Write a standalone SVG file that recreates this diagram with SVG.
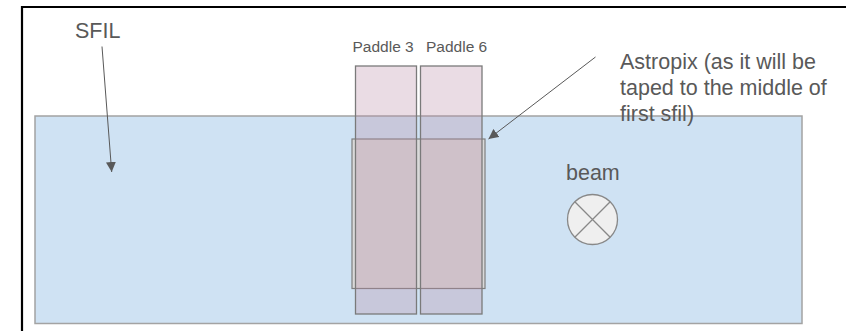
<svg xmlns="http://www.w3.org/2000/svg" width="846" height="331" viewBox="0 0 846 331">
<defs>
<style>
.lbl{font-family:"Liberation Sans",Arial,sans-serif;fill:#595959}
.big{font-size:21.5px}
.small{font-size:15.5px}
.paddle{fill:#b98aa6;fill-opacity:0.3;stroke:#7a7a7a;stroke-width:1.3}
.conn{stroke:#595959;stroke-width:1;fill:none}
</style>
<marker id="ah" viewBox="0 0 10 10" refX="10" refY="5" markerWidth="10" markerHeight="10" markerUnits="userSpaceOnUse" orient="auto">
<path d="M0,0 L10,5 L0,10 Z" fill="#595959"/>
</marker>
</defs>
<rect x="0" y="0" width="846" height="331" fill="#ffffff"/>
<path d="M22,331 V7 H846" fill="none" stroke="#000" stroke-width="2.2"/>
<g id="sfil">
<rect x="35" y="116" width="767" height="207.5" fill="#cfe2f3" stroke="#a3a3a3" stroke-width="1.5"/>
</g>
<g id="astropix">
<rect x="352" y="139" width="133" height="149.5" fill="#d9d9d9" stroke="#7f7f7f" stroke-width="1.2"/>
</g>
<g id="paddle3">
<rect class="paddle" x="355.5" y="66" width="61" height="248"/>
</g>
<g id="paddle6">
<rect class="paddle" x="420.5" y="66" width="61.5" height="248"/>
</g>
<g id="beam">
<circle cx="592.5" cy="219.5" r="25" fill="#efefef" stroke="#888" stroke-width="1.3"/>
<path d="M574.8,201.8 L610.2,237.2 M610.2,201.8 L574.8,237.2" stroke="#888" stroke-width="1.3"/>
</g>
<g id="labels">
<text class="lbl big" x="75" y="37.5">SFIL</text>
<text class="lbl small" x="352.5" y="52.3">Paddle 3</text>
<text class="lbl small" x="426" y="52.3">Paddle 6</text>
<text class="lbl big" x="566" y="180">beam</text>
<text class="lbl big" x="620" y="69">Astropix (as it will be</text>
<text class="lbl big" x="620" y="95">taped to the middle of</text>
<text class="lbl big" x="620" y="121">first sfil)</text>
</g>
<g id="connectors">
<line class="conn" x1="102" y1="46.5" x2="111.7" y2="172" marker-end="url(#ah)"/>
<line class="conn" x1="595.5" y1="57" x2="488.5" y2="139" marker-end="url(#ah)"/>
</g>
</svg>
